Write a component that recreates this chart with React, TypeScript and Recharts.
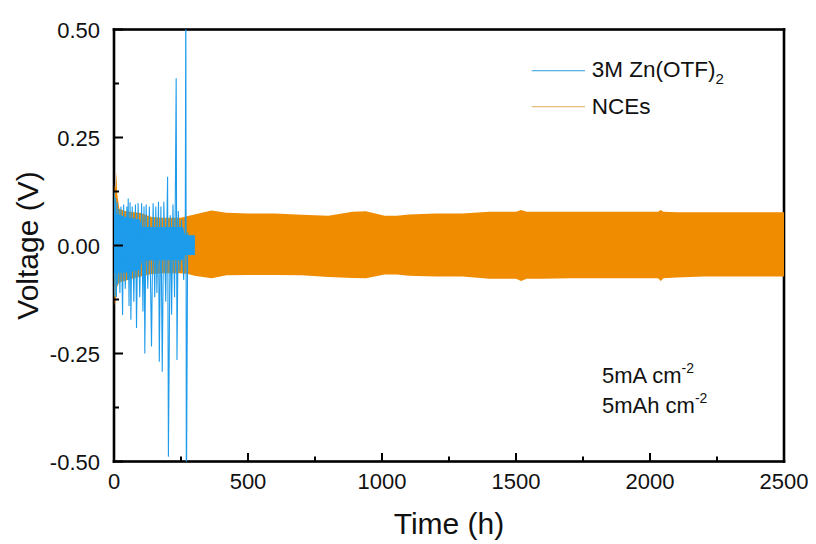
import React from 'react';
import { ComposedChart, Area, Line, XAxis, YAxis, Legend } from 'recharts';

// ---------- data ----------
// NCEs envelope (upper / lower edge of the dense charge–discharge band)
const nceTimes = [0, 3, 6, 9, 12, 20, 40, 60, 100, 140, 180, 250, 276, 300, 364, 420, 500, 600, 700, 800, 890, 940, 1010, 1055, 1100, 1200, 1300, 1400, 1500, 1519, 1540, 1600, 1700, 1800, 1900, 2000, 2030, 2040, 2050, 2100, 2200, 2300, 2400, 2500];
const nceUpper = [0.10, 0.14, 0.13, 0.171, 0.12, 0.085, 0.08, 0.078, 0.075, 0.066, 0.064, 0.064, 0.068, 0.072, 0.081, 0.076, 0.074, 0.074, 0.071, 0.069, 0.078, 0.079, 0.069, 0.069, 0.072, 0.074, 0.074, 0.078, 0.078, 0.082, 0.078, 0.078, 0.078, 0.078, 0.078, 0.078, 0.078, 0.082, 0.078, 0.077, 0.077, 0.077, 0.077, 0.077];
const nceLower = [-0.10, -0.138, -0.13, -0.11, -0.095, -0.085, -0.082, -0.078, -0.072, -0.066, -0.064, -0.064, -0.066, -0.07, -0.076, -0.069, -0.068, -0.068, -0.069, -0.073, -0.075, -0.076, -0.067, -0.067, -0.07, -0.072, -0.072, -0.077, -0.077, -0.082, -0.077, -0.077, -0.076, -0.076, -0.076, -0.076, -0.076, -0.082, -0.076, -0.074, -0.072, -0.072, -0.072, -0.072];

// 3M Zn(OTF)2 dense band envelope
const znBandTimes = [0, 50, 95, 105, 200, 258, 264, 302];
const znBandUpper = [0.075, 0.065, 0.06, 0.043, 0.043, 0.043, 0.024, 0.024];
const znBandLower = [-0.065, -0.062, -0.057, -0.035, -0.034, -0.034, -0.022, -0.022];

// 3M Zn(OTF)2 voltage spikes
const znSpikeTimes = [0, 1, 3, 6, 9, 12, 14, 18, 22, 26, 32, 36, 42, 48, 51, 53, 56, 60, 63, 68, 74, 80, 84, 90, 96, 103, 108, 112, 115, 120, 126, 132, 140, 146, 152, 156, 160, 166, 169, 175, 180, 186, 193, 200, 203, 210, 215, 220, 226, 232, 235, 240, 246, 252, 260, 266, 268, 270, 275, 285, 300];
const znSpikeVolts = [0.02, 0.125, -0.118, 0.11, -0.12, 0.10, -0.09, 0.085, -0.11, 0.09, -0.161, 0.095, -0.10, 0.09, -0.08, 0.109, -0.14, 0.10, -0.172, 0.09, -0.13, 0.095, -0.191, 0.098, -0.12, 0.098, -0.153, 0.09, -0.25, 0.095, -0.10, 0.09, -0.234, 0.098, -0.12, 0.09, -0.11, 0.101, -0.269, 0.09, -0.292, 0.101, -0.13, 0.159, -0.489, 0.07, -0.16, 0.095, -0.12, 0.387, -0.265, 0.08, -0.06, 0.06, -0.08, 0.04, 0.62, -0.62, 0.03, -0.02, 0.0];

const xTicks = [0, 250, 500, 750, 1000, 1250, 1500, 1750, 2000, 2250, 2500];
const yTicks = [-0.5, -0.375, -0.25, -0.125, 0, 0.125, 0.25, 0.375, 0.5];
const xDomain = [0, 2500];
const yDomain = [-0.5, 0.5];

const seriesNames = ['3M Zn(OTF)', 'NCEs'];
const annotationLines = ['5mA cm', '5mAh cm'];

// ---------- layout / styles ----------
const CHART_W = 808;
const CHART_H = 536;
const MARGIN = { top: 21.5, right: 32, bottom: 0, left: 0 };
const Y_AXIS_W = 106;
const X_AXIS_H = 82.5;
const FRAME_W = 2.6;
const BLUE = '#1E9CEB';
const ORANGE = '#F08C00';
const FONT = '"Liberation Sans", Arial, Helvetica, sans-serif';

const nceData = nceTimes.map((t, i) => ({ t, band: [nceLower[i], nceUpper[i]] }));
const znBandData = znBandTimes.map((t, i) => ({ t, band: [znBandLower[i], znBandUpper[i]] }));
const znSpikeData = znSpikeTimes.map((t, i) => ({ t, v: znSpikeVolts[i] }));

const XTick = (props: any) => {
  const { x, y, payload } = props;
  const v = payload.value;
  const major = v % 500 === 0;
  return (
    <g>
      <rect x={x - 1} y={y - (major ? 8.5 : 5)} width={2} height={major ? 8.5 : 5} fill="#000" />
      {major && (
        <text x={x} y={y + 27.5} textAnchor="middle" fontSize={22} fontFamily={FONT} fill="#111">
          {v}
        </text>
      )}
    </g>
  );
};

const YTick = (props: any) => {
  const { x, y, payload } = props;
  const v = payload.value;
  const major = Math.abs(v * 4 - Math.round(v * 4)) < 1e-6;
  return (
    <g>
      <rect x={x} y={y - 1} width={major ? 9 : 5} height={2} fill="#000" />
      {major && (
        <text x={x - 14} y={y + 8} textAnchor="end" fontSize={22} fontFamily={FONT} fill="#111">
          {v.toFixed(2)}
        </text>
      )}
    </g>
  );
};

const LegendBox = () => (
  <svg width={260} height={80} style={{ overflow: 'visible' }}>
    <rect x={11.7} y={20} width={53.3} height={1.3} fill="#5BB6E6" />
    <text x={71.7} y={27.3} fontSize={22.5} fontFamily={FONT} fill="#111">
      {seriesNames[0]}
      <tspan dy={7} fontSize={15}>2</tspan>
    </text>
    <rect x={11.7} y={56} width={53.3} height={1.3} fill="#E2BF7C" />
    <text x={71.7} y={64} fontSize={22.5} fontFamily={FONT} fill="#111">
      {seriesNames[1]}
    </text>
  </svg>
);

const Overlay = () => {
  const left = MARGIN.left + Y_AXIS_W;
  const top = MARGIN.top;
  const right = CHART_W - MARGIN.right;
  const bottom = CHART_H - MARGIN.bottom - X_AXIS_H;
  const h = FRAME_W / 2;
  return (
    <g>
      <rect x={left - h} y={top - h} width={FRAME_W} height={bottom - top + FRAME_W} fill="#000" />
      <rect x={right - h} y={top - h} width={FRAME_W} height={bottom - top + FRAME_W} fill="#000" />
      <rect x={left - h} y={top - h} width={right - left + FRAME_W} height={FRAME_W} fill="#000" />
      <rect x={left - h} y={bottom - h} width={right - left + FRAME_W} height={FRAME_W} fill="#000" />
      {annotationLines.map((s, i) => (
        <text key={s} x={594} y={374.7 + i * 30.6} fontSize={22} fontFamily={FONT} fill="#111">
          {s}
          <tspan dy={-10} fontSize={14}>-2</tspan>
        </text>
      ))}
    </g>
  );
};

export default function App() {
  return (
    <div style={{ width: CHART_W, height: CHART_H, position: 'relative' }}>
      <ComposedChart width={CHART_W} height={CHART_H} margin={MARGIN}>
        <XAxis
          dataKey="t"
          type="number"
          domain={xDomain}
          ticks={xTicks}
          allowDataOverflow
          height={X_AXIS_H}
          tickSize={0}
          tickMargin={0}
          tickLine={false}
          tick={<XTick />}
          axisLine={false}
          interval={0}
          label={{
            content: (p: any) => {
              const vb = p.viewBox || { x: 106, y: 453.5, width: 670 };
              return (
                <text x={vb.x + vb.width / 2} y={vb.y + 72} textAnchor="middle" fontSize={30} fontFamily={FONT} fill="#111">
                  Time (h)
                </text>
              );
            },
          }}
        />
        <YAxis
          type="number"
          domain={yDomain}
          ticks={yTicks}
          allowDataOverflow
          width={Y_AXIS_W}
          tickSize={0}
          tickMargin={0}
          tickLine={false}
          tick={<YTick />}
          interval={0}
          axisLine={false}
          label={{
            content: (p: any) => {
              const vb = p.viewBox || { y: 21.5, height: 432 };
              const cy = vb.y + vb.height / 2;
              return (
                <text x={30} y={cy} transform={`rotate(-90, 30, ${cy})`} textAnchor="middle" fontSize={30} fontFamily={FONT} fill="#111">
                  Voltage (V)
                </text>
              );
            },
          }}
        />
        <Area
          data={nceData}
          dataKey="band"
          name="NCEs"
          type="linear"
          stroke="none"
          fill={ORANGE}
          fillOpacity={1}
          isAnimationActive={false}
        />
        <Area
          data={znBandData}
          dataKey="band"
          name="band"
          legendType="none"
          type="linear"
          stroke="none"
          fill={BLUE}
          fillOpacity={1}
          isAnimationActive={false}
        />
        <Line
          data={znSpikeData}
          dataKey="v"
          name="3M Zn(OTF)2"
          type="linear"
          stroke={BLUE}
          strokeWidth={1.1}
          dot={false}
          isAnimationActive={false}
        />
        <Legend
          layout="horizontal"
          verticalAlign="middle"
          align="center"
          wrapperStyle={{ left: 512, top: 42, width: 260, height: 80 }}
          content={() => <LegendBox />}
        />
        <Overlay />
      </ComposedChart>
    </div>
  );
}
